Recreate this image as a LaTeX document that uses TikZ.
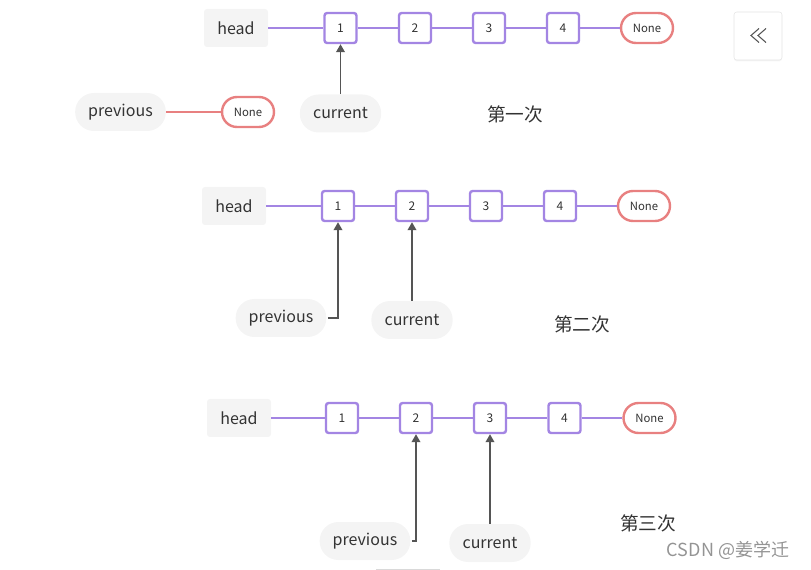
\documentclass[tikz,border=0pt]{standalone}
\usepackage{fontspec}
\setmainfont{Noto Sans CJK SC}
\usetikzlibrary{arrows.meta,shadows}

\definecolor{linkpurple}{RGB}{163,133,227}
\definecolor{nonered}{RGB}{232,128,128}
\definecolor{pillgray}{RGB}{244,244,244}
\definecolor{ptrgray}{RGB}{85,85,85}
\definecolor{txtgray}{RGB}{51,51,51}

\begin{document}
\begin{tikzpicture}[x=0.75pt,y=0.75pt,yscale=-1,xscale=1,
  every node/.style={text=txtgray},
  numbox/.style={draw=linkpurple,line width=1.8pt,fill=white,rounded corners=2pt,
    minimum width=24pt,minimum height=22.5pt,inner sep=0pt,font=\fontsize{9}{9}\selectfont},
  nonebox/.style={draw=nonered,line width=1.8pt,fill=white,rounded corners=11.25pt,
    minimum width=39pt,minimum height=22.5pt,inner sep=0pt,font=\fontsize{8.5}{8.5}\selectfont},
  headbox/.style={fill=pillgray,rounded corners=2.25pt,minimum width=48pt,
    minimum height=28.5pt,inner sep=0pt,font=\fontsize{12}{12}\selectfont},
  varpill/.style={fill=pillgray,rounded corners=14pt,minimum height=28.5pt,
    inner sep=0pt,font=\fontsize{12}{12}\selectfont},
  link/.style={draw=linkpurple,line width=1.8pt},
  nolink/.style={draw=nonered,line width=1.8pt},
  ptr/.style={draw=ptrgray,line width=1.2pt,-{Triangle[width=6.5pt,length=6pt]}},
  stepname/.style={font=\fontsize{14}{14}\selectfont}]
\useasboundingbox (0,0) rectangle (811,570);

% ---- first pass
\node[headbox] (h1) at (236,28) {head};
\node[numbox] (b11) at (340.5,28) {1};
\node[numbox] (b12) at (415,28) {2};
\node[numbox] (b13) at (489,28) {3};
\node[numbox] (b14) at (563,28) {4};
\node[nonebox] (e1) at (647,28) {None};
\draw[link] (h1) -- (b11) -- (b12) -- (b13) -- (b14) -- (e1);

\node[varpill,minimum width=68pt] (p1) at (120.5,112) {previous};
\node[nonebox] (pe1) at (248,112) {None};
\draw[nolink] (p1) -- (pe1);

\node[varpill,minimum width=61pt] (c1) at (340.5,113.5) {current};
\draw[ptr] (c1.north) -- (b11.south);

% Text Node
\node[stepname] (s1) at (515,114) {第一次};

% collapse button
\node[draw=black!10,fill=white,rounded corners=2pt,minimum width=36pt,minimum height=36pt,
  drop shadow={opacity=0.08,shadow xshift=0pt,shadow yshift=-1pt}] (btn) at (758,36) {};
\draw[ptrgray,line width=0.8pt] (759,28.5) -- (751,35.5) -- (759,42.5);
\draw[ptrgray,line width=0.8pt] (766,28.5) -- (758,35.5) -- (766,42.5);

% ---- second pass
\node[headbox] (h2) at (234,206) {head};
\node[numbox] (b21) at (338,206) {1};
\node[numbox] (b22) at (412,206) {2};
\node[numbox] (b23) at (486,206) {3};
\node[numbox] (b24) at (560,206) {4};
\node[nonebox] (e2) at (644,206) {None};
\draw[link] (h2) -- (b21) -- (b22) -- (b23) -- (b24) -- (e2);

\node[varpill,minimum width=68pt] (p2) at (281,318) {previous};
\node[varpill,minimum width=61pt] (c2) at (412,320) {current};
\draw[ptr] ([xshift=1pt]p2.east) -| (b21.south);
\draw[ptr] (c2.north) -- (b22.south);

% Text Node
\node[stepname] (s2) at (582,324) {第二次};

% ---- third pass
\node[headbox] (h3) at (239,418) {head};
\node[numbox] (b31) at (342,418) {1};
\node[numbox] (b32) at (416,418) {2};
\node[numbox] (b33) at (490,418) {3};
\node[numbox] (b34) at (564.5,418) {4};
\node[nonebox] (e3) at (649.5,418) {None};
\draw[link] (h3) -- (b31) -- (b32) -- (b33) -- (b34) -- (e3);

\node[varpill,minimum width=68pt] (p3) at (365,541) {previous};
\node[varpill,minimum width=61pt] (c3) at (490,543) {current};
\draw[ptr] ([xshift=1pt]p3.east) -| (b32.south);
\draw[ptr] (c3.north) -- (b33.south);

% Text Node
\node[stepname] (s3) at (648,523) {第三次};

% watermark
\node[text=black!42,font=\fontsize{13.5}{13.5}\selectfont] (wm) at (728,550) {CSDN @姜学迁};
\draw[black!15,line width=1pt] (376,569.5) -- (440,569.5);
\end{tikzpicture}
\end{document}
